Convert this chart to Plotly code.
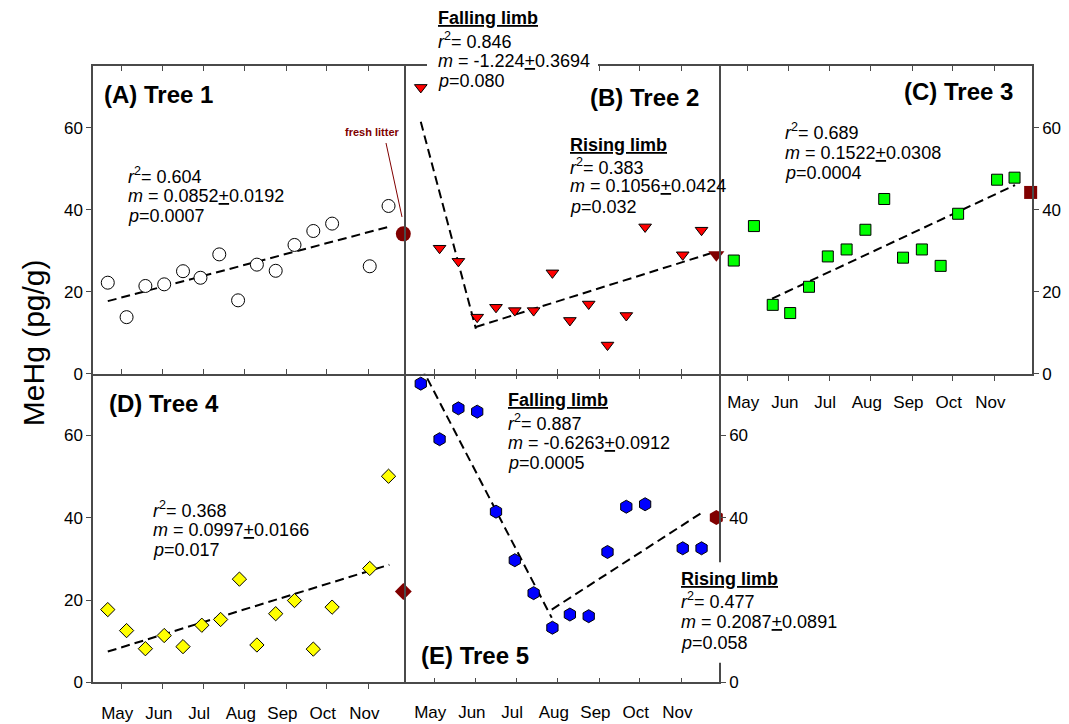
import plotly.graph_objects as go

W, H = 1069, 724

# ---------------- data (day of year, MeHg pg/g) ----------------
months = ["May", "Jun", "Jul", "Aug", "Sep", "Oct", "Nov"]
month_start_doy = [121, 152, 182, 213, 244, 274, 305]

t1_doy = [111, 125, 139, 153, 167, 180, 194, 208, 222, 236, 250, 264, 278, 306, 320]
t1_val = [22.2, 13.8, 21.4, 21.8, 25.0, 23.4, 29.1, 17.9, 26.6, 25.1, 31.4, 34.8, 36.6, 26.2, 40.9]
t1_fresh_doy, t1_fresh_val = [331], [34.1]
t1_fit_doy, t1_fit_val = [111, 321], [17.7, 35.9]

t2_doy = [111, 125, 139, 153, 167, 181, 195, 209, 222, 236, 250, 264, 278, 306, 320]
t2_val = [69.8, 30.6, 27.4, 13.8, 16.2, 15.4, 15.4, 24.6, 13.0, 17.0, 7.0, 14.2, 35.8, 29.0, 35.0]
t2_fresh_doy, t2_fresh_val = [331], [29.0]
t2_fall_doy, t2_fall_val = [111, 152], [61.4, 11.0]
t2_rise_doy, t2_rise_val = [152, 331], [11.4, 29.8]

t3_doy = [111, 126, 140, 153, 167, 181, 195, 209, 223, 237, 251, 265, 278, 307, 320]
t3_val = [27.6, 36.0, 16.8, 14.8, 21.2, 28.6, 30.3, 35.1, 42.6, 28.3, 30.3, 26.3, 39.0, 47.3, 47.8]
t3_fresh_doy, t3_fresh_val = [332], [44.2]
t3_fit_doy, t3_fit_val = [139.5, 320.4], [18.3, 46.0]

t4_doy = [111, 125, 139, 153, 167, 181, 195, 209, 222, 236, 250, 264, 278, 306, 320]
t4_val = [17.7, 12.6, 8.2, 11.4, 8.7, 13.9, 15.3, 25.1, 9.1, 16.7, 19.9, 8.1, 18.3, 27.7, 50.1]
t4_fresh_doy, t4_fresh_val = [331], [22.1]
t4_fit_doy, t4_fit_val = [111, 320.6], [7.5, 28.6]

t5_doy = [111, 125, 139, 153, 167, 181, 195, 209, 222, 236, 250, 264, 278, 306, 320]
t5_val = [72.6, 59.1, 66.6, 65.8, 41.5, 29.7, 21.7, 13.3, 16.5, 16.1, 31.7, 42.7, 43.3, 32.6, 32.6]
t5_fresh_doy, t5_fresh_val = [331], [40.1]
t5_fall_doy, t5_fall_val = [111, 208.5], [76.9, 15.7]
t5_rise_doy, t5_rise_val = [208.5, 319.5], [17.7, 41.1]

x_range = [100, 333]
y_range = [0, 75]
y_ticks = [0, 20, 40, 60]
y_ticktext = ["0", "20", "40", "60"]
y_ticktext_e = ["0", "", "40", "60"]   # the 20 label of panel E is hidden behind the stats box

# ---------------- styles ----------------
FONT = "Liberation Sans, Arial, sans-serif"
DARKRED = "#800000"
LINEC = "#4a4a4a"
LW = 1.5
DASH = "9px,5px"


def px(x):
    return x / W


def py(y):
    return 1 - y / H


fig = go.Figure()


def add_points(xa, ya, xs, ys, symbol, size, color, fx, fy, fsize):
    fig.add_trace(go.Scatter(x=xs, y=ys, mode="markers", xaxis=xa, yaxis=ya,
                             cliponaxis=False,
                             marker=dict(symbol=symbol, size=size, color=color,
                                         line=dict(color="black", width=1))))
    fig.add_trace(go.Scatter(x=fx, y=fy, mode="markers", xaxis=xa, yaxis=ya,
                             cliponaxis=False,
                             marker=dict(symbol=symbol, size=fsize, color=DARKRED,
                                         line=dict(color=DARKRED, width=0))))


def add_fit(xa, ya, xs, ys):
    fig.add_trace(go.Scatter(x=xs, y=ys, mode="lines", xaxis=xa, yaxis=ya,
                             line=dict(color="black", width=2, dash=DASH)))


add_fit("x", "y", t1_fit_doy, t1_fit_val)
add_points("x", "y", t1_doy, t1_val, "circle", 13, "white", t1_fresh_doy, t1_fresh_val, 15)

add_fit("x2", "y2", t2_fall_doy, t2_fall_val)
add_fit("x2", "y2", t2_rise_doy, t2_rise_val)
add_points("x2", "y2", t2_doy, t2_val, "triangle-down", 11, "#FF0000", t2_fresh_doy, t2_fresh_val, 14)

add_fit("x3", "y3", t3_fit_doy, t3_fit_val)
add_points("x3", "y3", t3_doy, t3_val, "square", 11, "#00FF00", t3_fresh_doy, t3_fresh_val, 13)

add_fit("x4", "y4", t4_fit_doy, t4_fit_val)
add_points("x4", "y4", t4_doy, t4_val, "diamond", 11, "#FFFF00", t4_fresh_doy, t4_fresh_val, 13)

add_fit("x5", "y5", t5_fall_doy, t5_fall_val)
add_fit("x5", "y5", t5_rise_doy, t5_rise_val)
add_points("x5", "y5", t5_doy, t5_val, "hexagon", 13, "#0000FF", t5_fresh_doy, t5_fresh_val, 15)

# empty traces for the overlay axes (inside top ticks of panels C and E)
fig.add_trace(go.Scatter(x=[], y=[], xaxis="x6", yaxis="y3", mode="markers"))
fig.add_trace(go.Scatter(x=[], y=[], xaxis="x7", yaxis="y5", mode="markers"))

cols = [(93, 406), (406, 719), (719, 1032)]
rows = [(67, 379), (379, 692)]


def xdom(c):
    return [px(cols[c][0]), px(cols[c][1])]


def ydom(r):
    return [py(rows[r][1]), py(rows[r][0])]


tickfont = dict(family=FONT, size=17, color="black")
base_x = dict(range=x_range, tickvals=month_start_doy, ticktext=months, showgrid=False,
              zeroline=False, showline=True, linecolor=LINEC, linewidth=LW,
              tickcolor=LINEC, tickwidth=1, ticklen=5, tickfont=tickfont,
              ticklabelshift=-4, ticklabelstandoff=9)
base_y = dict(range=y_range, tickvals=y_ticks, ticktext=y_ticktext, showgrid=False,
              zeroline=False, showline=True, linecolor=LINEC, linewidth=LW,
              tickcolor=LINEC, tickwidth=1, ticklen=5, tickfont=tickfont)
top_ticks = dict(range=x_range, tickvals=month_start_doy, side="top", ticks="inside",
                 ticklen=5, tickcolor=LINEC, tickwidth=1, showticklabels=False,
                 showline=False, showgrid=False, zeroline=False)

layout_axes = {
    "xaxis": dict(base_x, domain=xdom(0), anchor="y", ticks="inside", mirror="ticks",
                  showticklabels=False),
    "yaxis": dict(base_y, domain=ydom(0), anchor="x", ticks="outside", mirror=False),
    "xaxis2": dict(base_x, domain=xdom(1), anchor="y2", ticks="inside", mirror="ticks",
                   showticklabels=False),
    "yaxis2": dict(base_y, domain=ydom(0), anchor="x2", ticks="", mirror=True,
                   showticklabels=False),
    "xaxis3": dict(base_x, domain=xdom(2), anchor="y3", ticks="outside", mirror=True,
                   ticklabelstandoff=7),
    "yaxis3": dict(base_y, domain=ydom(0), anchor="x3", side="right", ticks="outside",
                   mirror=False),
    "xaxis4": dict(base_x, domain=xdom(0), anchor="y4", ticks="outside", mirror=False),
    "yaxis4": dict(base_y, domain=ydom(1), anchor="x4", ticks="outside", mirror=False),
    "xaxis5": dict(base_x, domain=xdom(1), anchor="y5", ticks="inside", mirror=False,
                   ticklabelstandoff=13),
    "yaxis5": dict(base_y, domain=ydom(1), anchor="x5", side="right", ticks="outside",
                   mirror=True, ticktext=y_ticktext_e),
    "xaxis6": dict(top_ticks, overlaying="x3", anchor="y3"),
    "xaxis7": dict(top_ticks, overlaying="x5", anchor="y5"),
}

annotations = []


def text(x, y, s, size=18, xanchor="left", color="black", angle=0):
    annotations.append(dict(x=px(x), y=py(y), xref="paper", yref="paper", text=s,
                            showarrow=False, xanchor=xanchor, yanchor="middle",
                            textangle=angle,
                            font=dict(family=FONT, size=size, color=color)))


PM = '<span style="text-decoration:underline">+</span>'


def stats(x, ys, r2, m, se, p, header=None):
    lines = []
    if header:
        lines.append('<b><span style="text-decoration:underline">%s</span></b>' % header)
    lines.append("<i>r</i><sup>2</sup>= %s" % r2)
    lines.append("<i>m</i> = %s%s%s" % (m, PM, se))
    lines.append("<i>p</i>=%s" % p)
    for yy, s in zip(ys, lines):
        text(x, yy, s)


# panel labels
text(102, 96, "<b>(A) Tree 1</b>", size=24)
text(588, 99, "<b>(B) Tree 2</b>", size=24)
text(902, 93, "<b>(C) Tree 3</b>", size=24)
text(107, 409, "<b>(D) Tree 4</b>", size=24)
text(419, 665, "<b>(E) Tree 5</b>", size=24)

stats(126, [178, 199, 219], "0.604", "0.0852", "0.0192", "0.0007")
stats(436, [18, 41, 62, 82], "0.846", "-1.224", "0.3694", "0.080", header="Falling limb")
stats(568, [147, 169, 189, 210], "0.383", "0.1056", "0.0424", "0.032", header="Rising limb")
stats(783, [133, 155, 175], "0.689", "0.1522", "0.0308", "0.0004")
stats(151, [517, 537, 558], "0.368", "0.0997", "0.0166", "0.017")
stats(506, [406, 428, 449, 469], "0.887", "-0.6263", "0.0912", "0.0005", header="Falling limb")
stats(679, [587, 609, 631, 652], "0.477", "0.2087", "0.0891", "0.058", header="Rising limb")

text(372, 134, "<b>fresh litter</b>", size=11, xanchor="center", color=DARKRED)
text(33, 348, "MeHg (pg/g)", size=30, xanchor="center", angle=-90)

shapes = [
    dict(type="rect", xref="paper", yref="paper", x0=px(427), x1=px(598), y0=py(76),
         y1=py(48), fillcolor="white", line=dict(width=0), layer="above"),
    dict(type="rect", xref="paper", yref="paper", x0=px(672), x1=px(800), y0=py(672),
         y1=py(570), fillcolor="white", line=dict(width=0), layer="above"),
    dict(type="line", xref="paper", yref="paper", x0=px(386), y0=py(145), x1=px(402),
         y1=py(220), line=dict(color=DARKRED, width=1)),
]

fig.update_layout(width=W, height=H, margin=dict(l=0, r=0, t=0, b=0),
                  paper_bgcolor="white", plot_bgcolor="white", showlegend=False,
                  font=dict(family=FONT, size=17, color="black"),
                  annotations=annotations, shapes=shapes, **layout_axes)

fig.write_html("out.html")
